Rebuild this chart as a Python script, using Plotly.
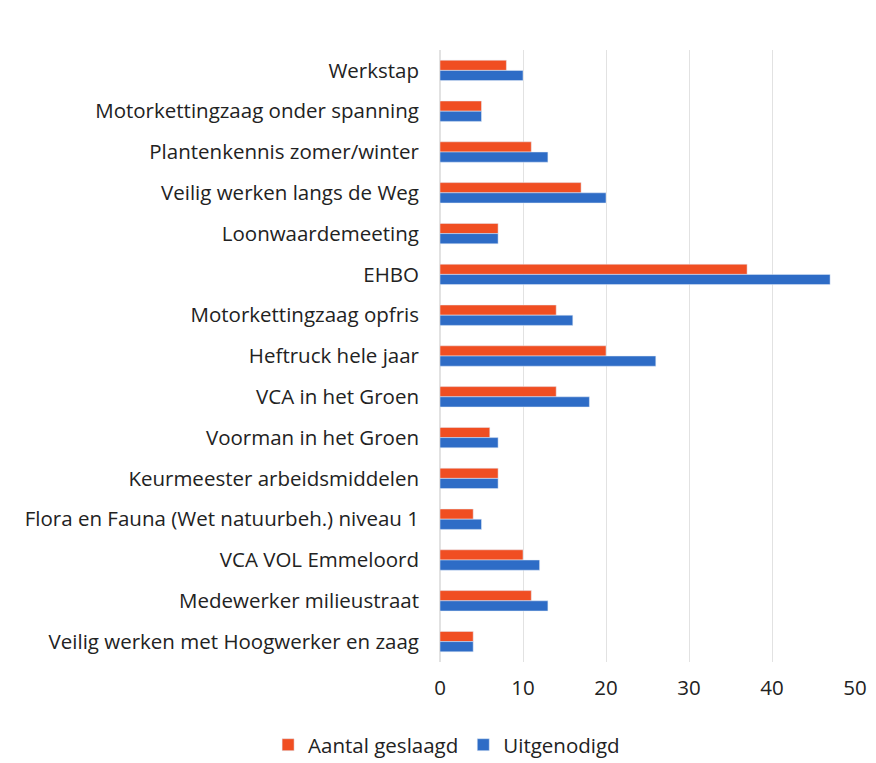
import plotly.graph_objects as go

categories = [
    "Werkstap",
    "Motorkettingzaag onder spanning",
    "Plantenkennis zomer/winter",
    "Veilig werken langs de Weg",
    "Loonwaardemeeting",
    "EHBO",
    "Motorkettingzaag opfris",
    "Heftruck hele jaar",
    "VCA in het Groen",
    "Voorman in het Groen",
    "Keurmeester arbeidsmiddelen",
    "Flora en Fauna (Wet natuurbeh.) niveau 1",
    "VCA VOL Emmeloord",
    "Medewerker milieustraat",
    "Veilig werken met Hoogwerker en zaag",
]
aantal_geslaagd = [8, 5, 11, 17, 7, 37, 14, 20, 14, 6, 7, 4, 10, 11, 4]
uitgenodigd = [10, 5, 13, 20, 7, 47, 16, 26, 18, 7, 7, 5, 12, 13, 4]
x_ticks = [0, 10, 20, 30, 40, 50]

fig = go.Figure()
fig.add_trace(go.Bar(y=categories, x=aantal_geslaagd, orientation="h",
                     name="Aantal geslaagd", marker_color="#F04E22"))
fig.add_trace(go.Bar(y=categories, x=uitgenodigd, orientation="h",
                     name="Uitgenodigd", marker_color="#2E6CC6"))

# page body has an 8px margin, so the figure is offset by 8px
fig.update_layout(
    width=860, height=755,
    margin=dict(l=432, r=13, t=42, b=101),
    barmode="group", bargap=0.5, bargroupgap=0,
    plot_bgcolor="white", paper_bgcolor="white",
    font=dict(family="Open Sans, Lato, sans-serif", size=20.5, color="#222222"),
    showlegend=True,
    legend=dict(orientation="h", xref="container", yref="container",
                x=0.51, xanchor="center", y=0.024, yanchor="middle",
                font=dict(size=20.5), itemwidth=30, traceorder="normal"),
)
fig.update_xaxes(range=[0, 50], tickvals=x_ticks, showgrid=True,
                 gridcolor="#E2E2E2", gridwidth=1, zeroline=True,
                 zerolinecolor="#E2E2E2", showline=False, ticks="",
                 ticklabelstandoff=11, automargin=False)
fig.update_yaxes(autorange="reversed", showgrid=False, showline=False,
                 ticks="", ticklabelstandoff=20, automargin=False)

fig.write_html("out.html")
